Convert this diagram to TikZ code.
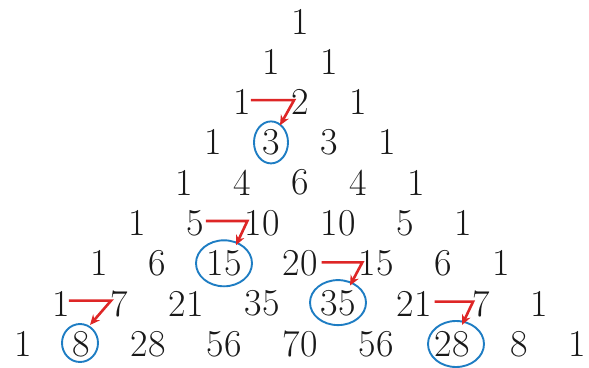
\documentclass[tikz,border=0pt]{standalone}
\usetikzlibrary{arrows.meta,shapes.geometric}
\definecolor{arrred}{RGB}{222,38,38}
\definecolor{ellblue}{RGB}{30,125,195}
\definecolor{numcol}{RGB}{25,25,25}
\begin{document}
\begin{tikzpicture}[x=1pt,y=-1pt,
  num/.style={inner sep=0pt,text=numcol,font=\fontsize{38}{45}\selectfont},
  redarr/.style={draw=arrred,line width=2.6pt,-{Stealth[length=10pt,width=9pt]},line join=miter},
  ellone/.style={draw=ellblue,line width=1.9pt,ellipse,minimum width=36pt,minimum height=42pt,inner sep=0pt},
]
\useasboundingbox (0,0) rectangle (589,367);
\def\ya{21.5}\def\yb{61.8}\def\yc{102.1}\def\yd{142.4}\def\ye{182.7}
\def\yf{223}\def\yg{263.3}\def\yh{303.6}\def\yi{344}
% row 0
\node[num] (r0a) at (300,\ya) {1};
% row 1
\node[num] (r1a) at (271,\yb) {1};
\node[num] (r1b) at (329,\yb) {1};
% row 2
\node[num] (r2a) at (242,\yc) {1};
\node[num] (r2b) at (300,\yc) {2};
\node[num] (r2c) at (358,\yc) {1};
% row 3
\node[num] (r3a) at (213,\yd) {1};
\node[num] (r3b) at (271,\yd) {3};
\node[num] (r3c) at (329,\yd) {3};
\node[num] (r3d) at (387,\yd) {1};
% row 4
\node[num] (r4a) at (184,\ye) {1};
\node[num] (r4b) at (242,\ye) {4};
\node[num] (r4c) at (300,\ye) {6};
\node[num] (r4d) at (358,\ye) {4};
\node[num] (r4e) at (416,\ye) {1};
% row 5
\node[num] (r5a) at (137,\yf) {1};
\node[num] (r5b) at (195,\yf) {5};
\node[num] (r5c) at (262,\yf) {10};
\node[num] (r5d) at (338,\yf) {10};
\node[num] (r5e) at (405,\yf) {5};
\node[num] (r5f) at (463,\yf) {1};
% row 6
\node[num] (r6a) at (99,\yg) {1};
\node[num] (r6b) at (157,\yg) {6};
\node[num] (r6c) at (224,\yg) {15};
\node[num] (r6d) at (300,\yg) {20};
\node[num] (r6e) at (376,\yg) {15};
\node[num] (r6f) at (443,\yg) {6};
\node[num] (r6g) at (501,\yg) {1};
% row 7
\node[num] (r7a) at (61,\yh) {1};
\node[num] (r7b) at (119,\yh) {7};
\node[num] (r7c) at (186,\yh) {21};
\node[num] (r7d) at (262,\yh) {35};
\node[num] (r7e) at (338,\yh) {35};
\node[num] (r7f) at (414,\yh) {21};
\node[num] (r7g) at (481,\yh) {7};
\node[num] (r7h) at (539,\yh) {1};
% row 8
\node[num] (r8a) at (23,\yi) {1};
\node[num] (r8b) at (81,\yi) {8};
\node[num] (r8c) at (148,\yi) {28};
\node[num] (r8d) at (224,\yi) {56};
\node[num] (r8e) at (300,\yi) {70};
\node[num] (r8f) at (376,\yi) {56};
\node[num] (r8g) at (452,\yi) {28};
\node[num] (r8h) at (519,\yi) {8};
\node[num] (r8i) at (577,\yi) {1};
% ellipses
\node[ellone,minimum width=34pt] (e1) at (r3b) {};
\node[ellone,minimum width=56pt,minimum height=46pt] (e2) at (r6c) {};
\node[ellone,minimum width=56pt,minimum height=45pt] (e3) at ([yshift=1pt]r7e) {};
\node[ellone,minimum width=36pt,minimum height=38pt] (e4) at ([xshift=-1pt,yshift=1pt]r8b) {};
\node[ellone,minimum width=56pt,minimum height=46pt] (e5) at ([xshift=4pt]r8g) {};
% arrows
\draw[redarr] ([yshift=2pt]r2a.east) -- ([xshift=3pt,yshift=2pt]r2b.west) -- ([xshift=9pt,yshift=4pt]r3b.north);
\draw[redarr] ([xshift=2pt,yshift=2pt]r5b.east) -- ([xshift=3pt,yshift=2pt]r5c.west) -- ([xshift=12pt,yshift=5pt]r6c.north);
\draw[redarr] ([xshift=4pt,yshift=1pt]r6d.east) -- ([xshift=4pt,yshift=1pt]r6e.west) -- ([xshift=12pt,yshift=5pt]r7e.north);
\draw[redarr] ([xshift=-1pt,yshift=3pt]r7a.east) -- ([xshift=1pt,yshift=3pt]r7b.west) -- ([xshift=9pt,yshift=6pt]r8b.north);
\draw[redarr] ([xshift=3pt,yshift=2pt]r7f.east) -- ([xshift=1pt,yshift=2pt]r7g.west) -- ([xshift=10pt,yshift=6pt]r8g.north);
\end{tikzpicture}
\end{document}
